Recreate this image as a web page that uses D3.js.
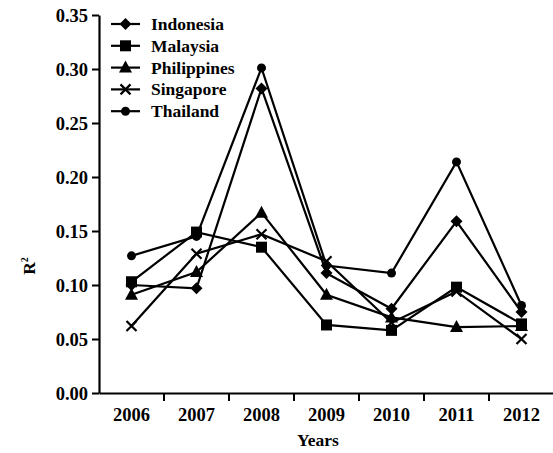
<!DOCTYPE html>
<html><head><meta charset="utf-8">
<script src="https://cdn.jsdelivr.net/npm/d3@7"></script>
<style>body{margin:0;background:#fff;}</style></head>
<body><svg id="c" width="553" height="453"></svg>
<script>
const years = ["2006","2007","2008","2009","2010","2011","2012"];
const seriesNames = ["Indonesia","Malaysia","Philippines","Singapore","Thailand"];
const indonesia   = [0.100, 0.097, 0.282, 0.111, 0.078, 0.159, 0.075];
const malaysia    = [0.103, 0.149, 0.135, 0.063, 0.058, 0.098, 0.064];
const philippines = [0.091, 0.112, 0.167, 0.091, 0.070, 0.061, 0.062];
const singapore   = [0.062, 0.129, 0.147, 0.122, 0.065, 0.094, 0.050];
const thailand    = [0.127, 0.145, 0.301, 0.118, 0.111, 0.214, 0.081];
const yTicks = [0, 0.05, 0.10, 0.15, 0.20, 0.25, 0.30, 0.35];
const markerTypes = ["diamond","square","triangle","cross","circle"];

const series = [indonesia, malaysia, philippines, singapore, thailand].map((v,i)=>({name:seriesNames[i], values:v, marker:markerTypes[i]}));

const FF = "Liberation Serif";
const svg = d3.select("#c");
const mLeft = 99, mRight = 554, mTop = 15, mBottom = 393;
const x = d3.scaleBand().domain(years).range([mLeft, mRight]).padding(0);
const y = d3.scaleLinear().domain([0, 0.35]).range([mBottom, mTop]);

const fsNum = 18.5, fsTxt = 17.5;
// y axis
const ya = svg.append("g").attr("transform",`translate(${mLeft},0)`)
  .call(d3.axisLeft(y).tickValues(yTicks).tickFormat(d3.format(".2f")).tickSize(7).tickSizeOuter(0));
ya.select(".domain").attr("stroke","#000").attr("stroke-width",2.2);
ya.selectAll(".tick line").attr("stroke","#000").attr("stroke-width",2);
ya.selectAll(".tick text").attr("font-family",FF).attr("font-weight","bold").attr("fill","#000")
  .attr("font-size",fsNum).attr("x",-11).attr("dy","0.33em");

// x axis
const xa = svg.append("g").attr("transform",`translate(0,${mBottom})`)
  .call(d3.axisBottom(x).tickSize(0).tickSizeOuter(0));
xa.select(".domain").attr("stroke","#000").attr("stroke-width",2.2);
xa.selectAll(".tick text").attr("font-family",FF).attr("font-weight","bold").attr("fill","#000")
  .attr("font-size",fsNum).attr("y",15).attr("dy","0.71em");
// boundary ticks
xa.selectAll(".btick").data(years.slice(1)).enter().append("line")
  .attr("x1",d=>x(d)).attr("x2",d=>x(d)).attr("y1",0).attr("y2",8)
  .attr("stroke","#000").attr("stroke-width",2);

// axis titles
svg.append("text").attr("x",318).attr("y",446).attr("text-anchor","middle")
  .attr("font-family",FF).attr("font-weight","bold").attr("font-size",fsTxt).text("Years");
const yl = svg.append("text").attr("transform",`translate(35,266) rotate(-90)`).attr("text-anchor","middle")
  .attr("font-family",FF).attr("font-weight","bold").attr("font-size",fsTxt);
yl.append("tspan").text("R");
yl.append("tspan").attr("font-size",10).attr("dy",-7).text("2");

const cx = d => x(d) + x.bandwidth()/2;
const line = d3.line().x((d,i)=>cx(years[i])).y(d=>y(d));

function drawMarker(g, type, px, py){
  if(type==="diamond"){
    g.append("path").attr("d",`M${px},${py-6}L${px+6},${py}L${px},${py+6}L${px-6},${py}Z`).attr("fill","#000");
  } else if(type==="square"){
    g.append("rect").attr("x",px-5.5).attr("y",py-5.5).attr("width",11).attr("height",11).attr("fill","#000");
  } else if(type==="triangle"){
    g.append("path").attr("d",`M${px},${py-7}L${px+6.5},${py+5}L${px-6.5},${py+5}Z`).attr("fill","#000");
  } else if(type==="cross"){
    g.append("path").attr("d",`M${px-5},${py-5}L${px+5},${py+5}M${px+5},${py-5}L${px-5},${py+5}`).attr("stroke","#000").attr("stroke-width",2.2);
  } else {
    g.append("circle").attr("cx",px).attr("cy",py).attr("r",4.5).attr("fill","#000");
  }
}

series.forEach(s=>{
  const g = svg.append("g");
  g.append("path").datum(s.values).attr("d",line).attr("fill","none").attr("stroke","#000").attr("stroke-width",2.2);
  s.values.forEach((v,i)=>drawMarker(g, s.marker, cx(years[i]), y(v)));
});

// legend
const ly0 = 24, ldy = 21.8;
series.forEach((s,i)=>{
  const g = svg.append("g");
  const yy = ly0 + i*ldy;
  g.append("line").attr("x1",111).attr("x2",140).attr("y1",yy).attr("y2",yy).attr("stroke","#000").attr("stroke-width",2.2);
  drawMarker(g, s.marker, 125.5, yy);
  g.append("text").attr("x",151).attr("y",yy).attr("dy","0.34em")
    .attr("font-family",FF).attr("font-weight","bold").attr("font-size",fsTxt).text(s.name);
});
</script></body></html>
